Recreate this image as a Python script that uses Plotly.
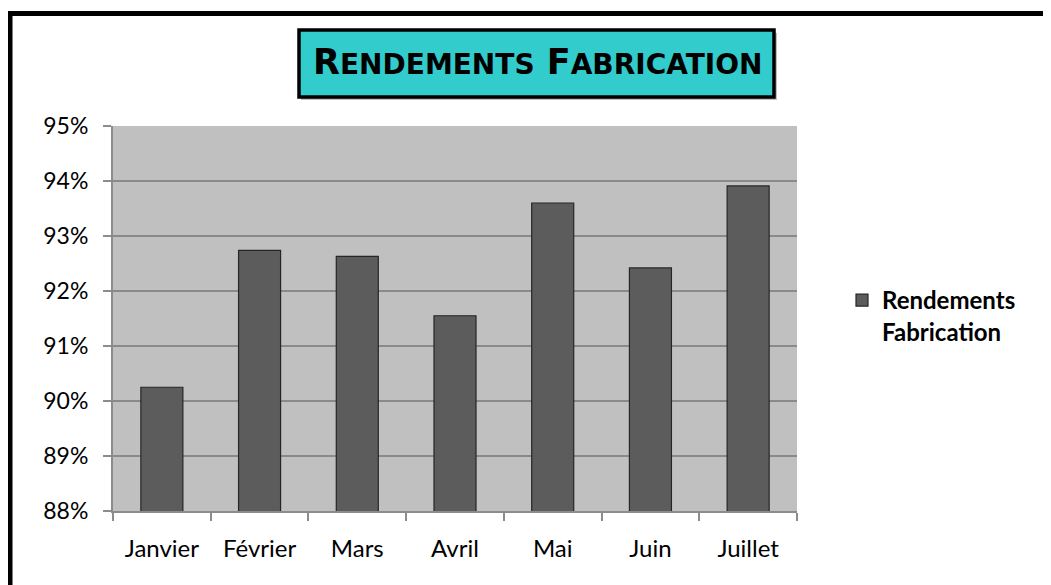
import plotly.graph_objects as go

categories = ["Janvier", "Février", "Mars", "Avril", "Mai", "Juin", "Juillet"]
rendements = [0.9025, 0.9274, 0.9263, 0.9155, 0.9360, 0.9242, 0.9391]
series_name = "Rendements<br>Fabrication"
y_ticks = [0.88, 0.89, 0.90, 0.91, 0.92, 0.93, 0.94, 0.95]

FONT = "Lato, 'Open Sans', sans-serif"
TITLE_FONT = "'DejaVu Sans', Lato, sans-serif"
W, H = 1051, 585
OFF = 8  # page body margin
# target plot area in page pixels
PX0, PX1, PY0, PY1 = 113, 797, 126, 511
L, T = PX0 - OFF, PY0 - OFF
R, B = W - (PX1 - OFF), H - (PY1 - OFF)
PW, PH = PX1 - PX0, PY1 - PY0


def px(x):
    return (x - PX0) / PW


def py(y):
    return (PY1 - y) / PH


fig = go.Figure()
fig.add_trace(go.Bar(
    x=categories, y=rendements, name=series_name, width=0.43,
    marker=dict(color="#5C5C5C", line=dict(color="#262626", width=1.2)),
    showlegend=True,
))

fig.update_layout(
    width=W, height=H,
    margin=dict(l=L, r=R, t=T, b=B),
    paper_bgcolor="white",
    plot_bgcolor="#C0C0C0",
    font=dict(family=FONT, color="black", size=22),
    legend=dict(
        x=px(842), y=py(278), xanchor="left", yanchor="top",
        font=dict(family=FONT, size=24, color="black", weight="bold"),
        valign="top", bgcolor="rgba(0,0,0,0)", itemwidth=30,
    ),
    xaxis=dict(
        type="category", showline=True, linecolor="#8C8C8C", linewidth=2,
        ticks="outside", ticklen=8, tickwidth=1.5, tickcolor="#8C8C8C",
        tickson="boundaries", showgrid=False,
        tickfont=dict(family=FONT, size=24, color="black"),
        ticklabelstandoff=15,
    ),
    yaxis=dict(
        range=[0.88, 0.95], tickvals=y_ticks, tickformat=".0%",
        showline=True, linecolor="#8C8C8C", linewidth=2,
        ticks="outside", ticklen=8, tickwidth=2, tickcolor="#8C8C8C",
        showgrid=True, gridcolor="#8A8A8A", gridwidth=2,
        zeroline=False,
        tickfont=dict(family=FONT, size=23, color="black"),
        ticklabelstandoff=10,
    ),
)

shapes = [
    # outer chart border
    dict(type="rect", xref="paper", yref="paper",
         x0=px(10), x1=px(1120), y0=py(650), y1=py(13.5),
         line=dict(color="black", width=5), fillcolor="rgba(0,0,0,0)", layer="above"),
    # title box shadow
    dict(type="rect", xref="paper", yref="paper",
         x0=px(301), x1=px(777), y0=py(100), y1=py(33),
         line=dict(width=0), fillcolor="rgba(0,0,0,0.25)"),
    # title box
    dict(type="rect", xref="paper", yref="paper",
         x0=px(299), x1=px(774), y0=py(97), y1=py(30),
         line=dict(color="black", width=3.5), fillcolor="#33CCCC"),
]
fig.update_layout(shapes=shapes)

fig.add_annotation(
    xref="paper", yref="paper", x=px(537), y=py(62),
    xanchor="center", yanchor="middle", showarrow=False,
    text="<b>R<span style='font-size:28px'>ENDEMENTS</span> F<span style='font-size:28px'>ABRICATION</span></b>",
    font=dict(family=TITLE_FONT, size=35, color="black"),
)

fig.write_html("out.html")
